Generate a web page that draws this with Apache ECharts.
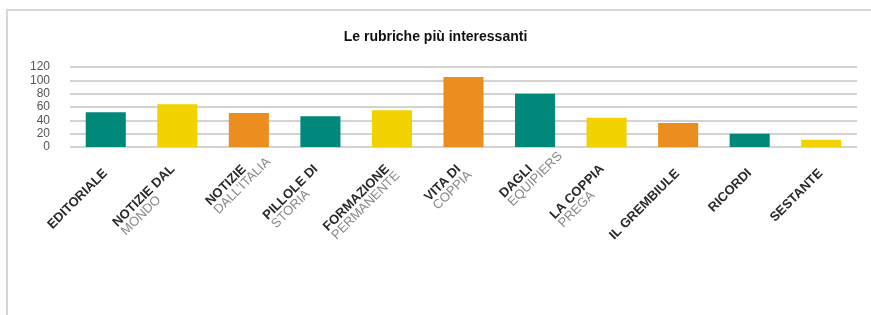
<!DOCTYPE html>
<html><head><meta charset="utf-8">
<script src="https://cdn.jsdelivr.net/npm/echarts@6/dist/echarts.min.js"></script>
<style>html,body{margin:0;padding:0;background:#fff}#c{width:871px;height:315px}</style>
</head><body><div id="c"></div>
<script>
const titleText = 'Le rubriche più interessanti';
const catMain = ['EDITORIALE','NOTIZIE DAL','NOTIZIE','PILLOLE DI','FORMAZIONE','VITA DI','DAGLI','LA COPPIA','IL GREMBIULE','RICORDI','SESTANTE'];
const catSub = ['','MONDO','DALL\'ITALIA','STORIA','PERMANENTE','COPPIA','EQUIPIERS','PREGA','','',''];
const values = [52, 64, 51, 46, 55, 105, 80, 44, 36, 20, 11];
const palette = ['#00897a', '#f2d200', '#ec8d20'];
const yTicks = [0, 20, 40, 60, 80, 100, 120];

const chart = echarts.init(document.getElementById('c'));
const ff = 'Liberation Sans Narrow, Liberation Sans';
const fsz = 13;
const ctx = document.createElement('canvas').getContext('2d');
ctx.font = 'bold ' + fsz + 'px ' + ff;
const rich = {};
catMain.forEach((m, i) => {
  const w1 = Math.ceil(ctx.measureText(m).width);
  rich['a' + i] = {fontFamily: ff, fontSize: fsz, fontWeight: 'bold', color: '#2a2a2a', lineHeight: 12, align: 'left', width: w1};
  rich['b' + i] = {fontFamily: ff, fontSize: fsz, color: '#8a8a8a', lineHeight: 12, align: 'left', width: w1};
});
chart.setOption({
  animation: false,
  graphic: [{
    type: 'rect', shape: {x: 7, y: 10, width: 900, height: 330},
    style: {fill: 'none', stroke: '#d6d6d6', lineWidth: 2}, silent: true
  }],
  title: {
    text: titleText, left: 'center', top: 25,
    textStyle: {fontFamily: ff, fontSize: 14, fontWeight: 'bold', color: '#111'}
  },
  grid: {left: 70, right: 14, top: 67, height: 80, containLabel: false},
  xAxis: {
    type: 'category', data: catMain,
    axisLine: {show: false}, axisTick: {show: false},
    axisLabel: {
      rotate: 45, interval: 0, margin: 24,
      formatter: function (v, i) {
        return catSub[i] ? '{a' + i + '|' + v + '}\n{b' + i + '|' + catSub[i] + '}' : '{a' + i + '|' + v + '}';
      },
      rich: rich
    }
  },
  yAxis: {
    type: 'value', min: yTicks[0], max: yTicks[yTicks.length - 1], interval: 20,
    axisLine: {show: false}, axisTick: {show: false},
    splitLine: {lineStyle: {color: '#c4c4c4', width: 1.5}},
    axisLabel: {margin: 20, showMinLabel: true, showMaxLabel: true, hideOverlap: false,
      fontFamily: ff, fontSize: 12, color: '#555', lineHeight: 12}
  },
  series: [{
    type: 'bar', barWidth: '56%',
    data: values.map((v, i) => ({value: v, itemStyle: {color: palette[i % 3]}}))
  }]
});
</script></body></html>
